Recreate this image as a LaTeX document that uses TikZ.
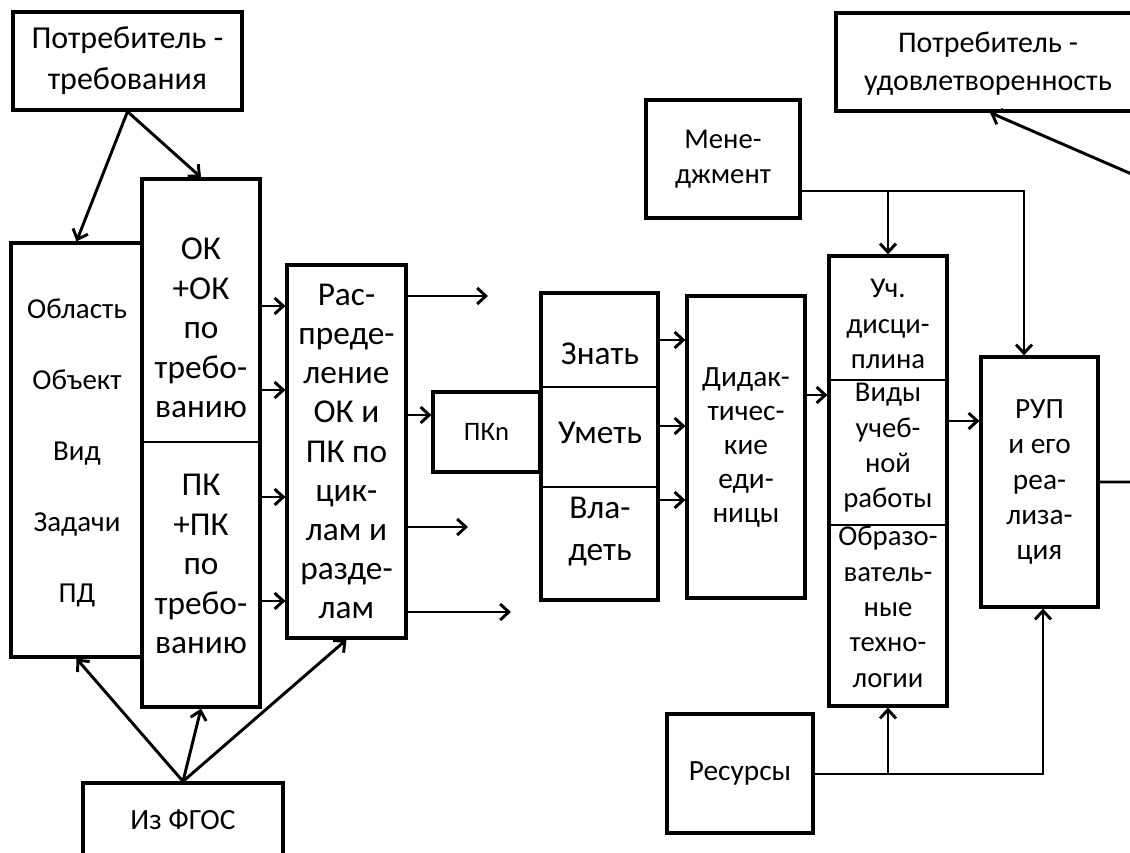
\documentclass[tikz,border=0pt]{standalone}
\usepackage{fontspec}
\setmainfont{Carlito}
\usetikzlibrary{arrows.meta,calc}
\begin{document}
\begin{tikzpicture}[x=0.75pt,y=-0.75pt,
  box/.style={draw, line width=2.4pt, inner sep=0pt, align=center},
  arr/.style={line width=2.2pt, -{Straight Barb[length=6.5pt,width=12pt]}},
  ln/.style={line width=2.2pt},
  sep/.style={line width=1.1pt},
  txt/.style={inner sep=0pt, align=center},
  fs/.style 2 args={font=\fontsize{#1}{#2}\selectfont}
]
\useasboundingbox (0,0) rectangle (1130,852);
\clip (0,0) rectangle (1130,852);
\fill[white] (0,0) rectangle (1130,852);

% boxes
\node[box, minimum width=171.75pt, minimum height=73.5pt, fs={24}{30.75}] (potreb1) at (127.5,61) {Потребитель -\\требования};
\node[box, minimum width=98.25pt, minimum height=310.5pt] (obl) at (76.5,450) {};
\node[txt, fs={21.7}{53.25}] (oblt) at (77,453) {Область\\Объект\\Вид\\Задачи\\ПД};

\node[box, minimum width=88.5pt, minimum height=396pt] (okpk) at (201,443) {};
\draw[sep] (okpk.west |- 0,442) -- (okpk.east |- 0,442);
\node[txt, fs={25}{29.6}] (okt) at (201,328) {ОК\\+ОК\\по\\требо-\\ванию};
\node[txt, fs={25}{29.6}] (pkt) at (201,564) {ПК\\+ПК\\по\\требо-\\ванию};

\node[box, minimum width=89.25pt, minimum height=279.75pt, fs={25}{29.4}] (raspr) at (346.5,451.5) {Рас-\\преде-\\ление\\ОК и\\ПК по\\цик-\\лам и\\разде-\\лам};

\node[box, minimum width=80.25pt, minimum height=60pt, fs={20}{24}] (pkn) at (486.5,432) {ПКn};

\node[box, minimum width=87.75pt, minimum height=230.25pt] (znat) at (599.5,446.5) {};
\draw[sep] (znat.west |- 0,387) -- (znat.east |- 0,387);
\draw[sep] (znat.west |- 0,487) -- (znat.east |- 0,487);
\node[txt, fs={25}{31.5}] (zn1) at (600,354) {Знать};
\node[txt, fs={25}{31.5}] (zn2) at (600,433) {Уметь};
\node[txt, fs={25}{31.5}] (zn3) at (600,532) {Вла-\\деть};

\node[box, minimum width=88.5pt, minimum height=226.5pt, fs={22}{25.5}] (didakt) at (746,447) {Дидак-\\тичес-\\кие\\еди-\\ницы};

\node[box, minimum width=88.5pt, minimum height=337.5pt] (uch) at (888,481) {};
\draw[sep] (uch.west |- 0,380) -- (uch.east |- 0,380);
\draw[sep] (uch.west |- 0,525) -- (uch.east |- 0,525);
\node[txt, fs={21.5}{26.5}] (uc1) at (888,324) {Уч.\\дисци-\\плина};
\node[txt, fs={21.5}{26.5}] (uc2) at (888,448) {Виды\\учеб-\\ной\\работы};
\node[txt, fs={21.5}{26.5}] (uc3) at (888,607) {Образо-\\ватель-\\ные\\техно-\\логии};

\node[box, minimum width=87.75pt, minimum height=187.5pt, fs={22}{26.6}] (rup) at (1039.5,482) {РУП\\и его\\реа-\\лиза-\\ция};
\node[box, minimum width=115.5pt, minimum height=88.5pt, fs={21.5}{26.25}] (men) at (723,159) {Мене-\\джмент};
\node[box, minimum width=255pt, minimum height=73.5pt] (potreb2) at (1006,62) {};
\node[txt, fs={22.5}{28.5}] (p2t) at (988,64) {Потребитель -\\удовлетворенность};
\node[box, minimum width=109.5pt, minimum height=89.25pt, fs={22}{26}] (res) at (740,773.5) {Ресурсы};
\node[box, minimum width=150pt, minimum height=55.5pt, fs={22}{28}] (fgos) at (183,820) {Из ФГОС};

% free ends
\coordinate (o1) at (488,296);
\coordinate (o3) at (468,527);
\coordinate (o4) at (511,612);
\coordinate (e1) at (1150,482);
\coordinate (e2) at (1150,182);
\coordinate (r1) at (1043,774);
\coordinate (m1) at (1024,191);
\coordinate (t2) at (990,111);

% connectors
\draw[arr] (potreb1.south) -- (obl.north);
\draw[arr] (potreb1.south) -- (okpk.north);
\foreach \yy in {306,390,497,601}
  \draw[arr] (okpk.east |- 0,\yy) -- (raspr.west |- 0,\yy);
\draw[arr] (raspr.east |- o1) -- (o1);
\draw[arr] (raspr.east |- 0,415) -- (pkn.west |- 0,415);
\draw[arr] (raspr.east |- o3) -- (o3);
\draw[arr] (raspr.east |- o4) -- (o4);
\foreach \yy in {340,426,500}
  \draw[arr] (znat.east |- 0,\yy) -- (didakt.west |- 0,\yy);
\draw[arr] (didakt.east |- 0,395) -- (uch.west |- 0,395);
\draw[arr] (uch.east |- 0,421) -- (rup.west |- 0,421);
\draw[arr] (rup.east |- e1) -- (e1) -- (e2) -- (potreb2.south -| t2);
\draw[arr] (men.east |- m1) -| (rup.north -| m1);
\draw[arr] (uch.north |- m1) -- (uch.north);
\draw[arr] (res.east |- r1) -| (rup.south -| r1);
\draw[arr] (uch.south |- r1) -- (uch.south);
\draw[arr] (fgos.north) -- (obl.south);
\draw[arr] (fgos.north) -- (okpk.south);
\draw[arr] (fgos.north) -- (raspr.south);
\end{tikzpicture}
\end{document}
